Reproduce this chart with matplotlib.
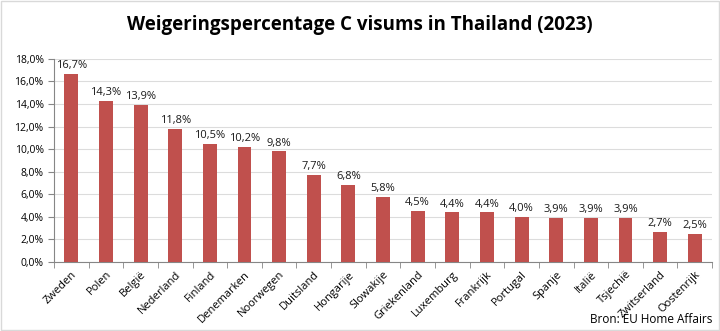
import matplotlib.pyplot as plt
from matplotlib.ticker import FuncFormatter, MultipleLocator
from matplotlib.patches import Rectangle

landen = ['Zweden', 'Polen', 'België', 'Nederland', 'Finland', 'Denemarken',
          'Noorwegen', 'Duitsland', 'Hongarije', 'Slowakije', 'Griekenland',
          'Luxemburg', 'Frankrijk', 'Portugal', 'Spanje', 'Italië', 'Tsjechië',
          'Zwitserland', 'Oostenrijk']
weigering = [16.7, 14.3, 13.9, 11.8, 10.5, 10.2, 9.8, 7.7, 6.8, 5.8, 4.5,
             4.4, 4.4, 4.0, 3.9, 3.9, 3.9, 2.7, 2.5]

plt.rcParams['font.family'] = ['Open Sans', 'DejaVu Sans']

fig = plt.figure(figsize=(7.2, 3.31), dpi=100)
ax = fig.add_axes([0.075, 0.2085, 0.914, 0.6135])

x = range(len(landen))
bars = ax.bar(x, weigering, width=0.4, color='#c0504d', zorder=3)

for xi, v in zip(x, weigering):
    ax.text(xi, v + 0.25, f'{v:.1f}%'.replace('.', ','), ha='center',
            va='bottom', fontsize=8, color='#1a1a1a')

ax.set_ylim(0, 18)
ax.set_xlim(-0.5, len(landen) - 0.5)
ax.yaxis.set_major_locator(MultipleLocator(2))
ax.yaxis.set_major_formatter(FuncFormatter(lambda v, p: f'{v:.1f}%'.replace('.', ',')))
ax.grid(axis='y', color='#dcdcdc', linewidth=0.8, zorder=0)

ax.set_xticks(list(x))
ax.set_xticklabels(landen, rotation=45, ha='right', rotation_mode='anchor',
                   fontsize=8)
ax.tick_params(axis='x', length=0, pad=5)
ax.tick_params(axis='y', labelsize=7.5, length=4, color='#868686')

# Excel-style tick marks between the categories
ax.set_xticks([i - 0.5 for i in range(len(landen) + 1)], minor=True)
ax.tick_params(axis='x', which='minor', length=4, color='#868686')

for side in ['top', 'right']:
    ax.spines[side].set_visible(False)
for side in ['left', 'bottom']:
    ax.spines[side].set_color('#868686')

fig.text(0.5, 0.925, 'Weigeringspercentage C visums in Thailand (2023)',
         ha='center', va='center', fontsize=13.5, fontweight='bold')
fig.text(0.99, 0.035, 'Bron: EU Home Affairs', ha='right', va='center',
         fontsize=8.5)

fig.patches.append(Rectangle((0.002, 0.003), 0.996, 0.994, transform=fig.transFigure,
                             fill=False, edgecolor='#d9d9d9', linewidth=1))

fig.savefig('out.png', dpi=100)
